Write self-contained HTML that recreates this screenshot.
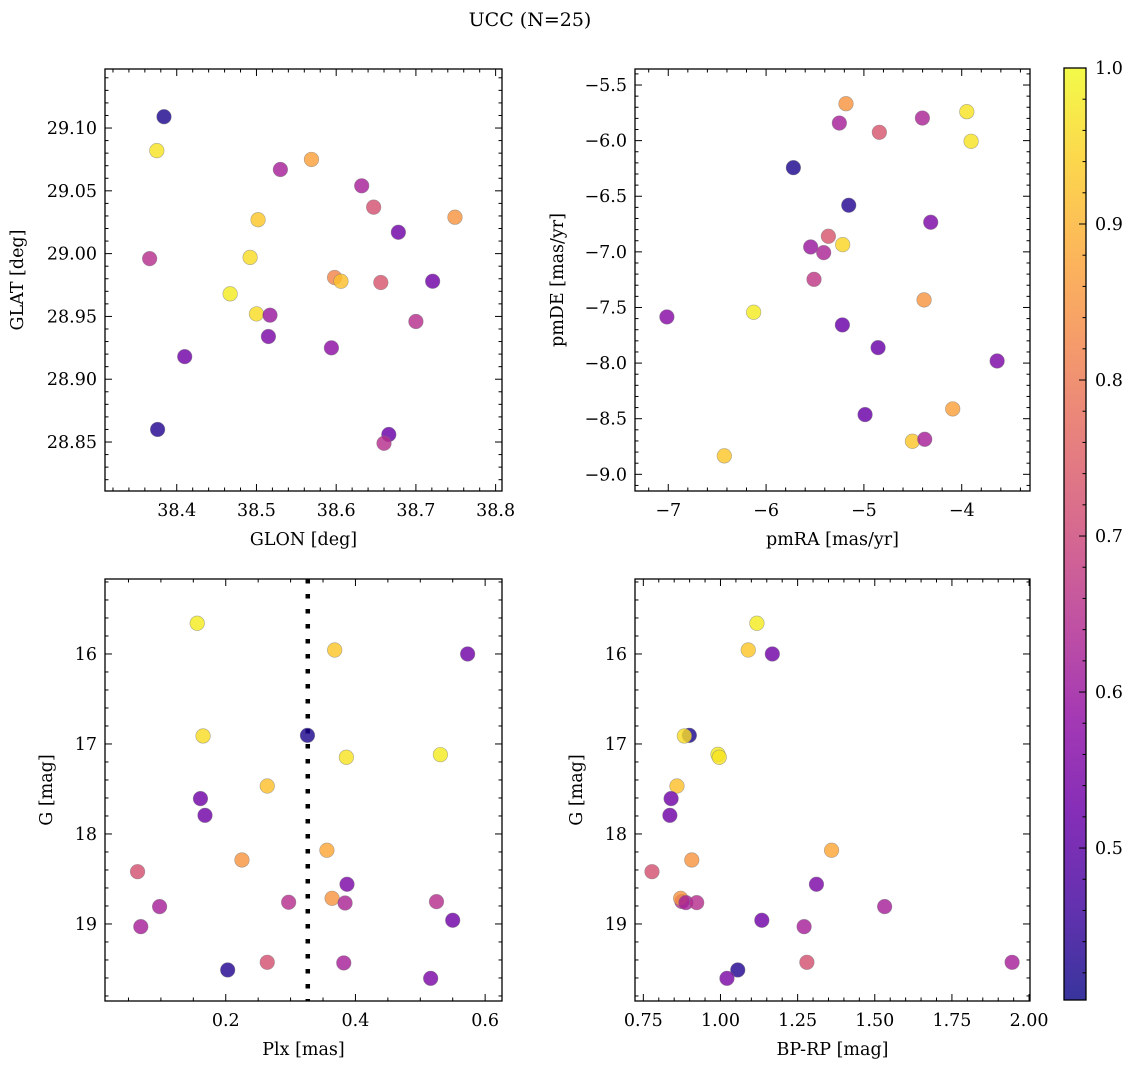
<!DOCTYPE html>
<html><head><meta charset="utf-8">
<style>
html,body{margin:0;padding:0;background:#fff;}
svg text{font-family:"DejaVu Serif","Liberation Serif",serif;fill:#000;}
</style></head>
<body>
<svg id="fig" width="1136" height="1068" viewBox="0 0 1136 1068" xmlns="http://www.w3.org/2000/svg">
<text x="530" y="26" font-size="19" text-anchor="middle">UCC (N=25)</text>
<defs>
<linearGradient id="cbgrad" x1="0" y1="1" x2="0" y2="0"></linearGradient>
</defs>
</svg>
<script>
// ---- data ----
const glon = [38.384,38.375,38.530,38.569,38.632,38.647,38.749,38.678,38.502,38.366,38.492,38.598,38.606,38.656,38.721,38.467,38.500,38.517,38.700,38.515,38.594,38.410,38.376,38.666,38.660];
const glat = [29.109,29.082,29.067,29.075,29.054,29.037,29.029,29.017,29.027,28.996,28.997,28.981,28.978,28.977,28.978,28.968,28.952,28.951,28.946,28.934,28.925,28.918,28.860,28.856,28.849];
const prob1 = [0.42,0.97,0.62,0.87,0.62,0.72,0.85,0.53,0.93,0.65,0.96,0.82,0.92,0.73,0.53,0.98,0.96,0.60,0.65,0.55,0.58,0.53,0.43,0.52,0.65];

const pmra = [-5.183,-5.251,-4.842,-4.402,-3.948,-3.904,-5.721,-5.155,-4.317,-5.363,-5.217,-5.544,-5.411,-5.510,-4.385,-7.014,-6.127,-5.220,-4.855,-3.638,-4.092,-4.988,-4.504,-4.378,-6.427];
const pmde = [-5.668,-5.842,-5.925,-5.797,-5.740,-6.006,-6.243,-6.581,-6.734,-6.860,-6.935,-6.956,-7.007,-7.247,-7.432,-7.585,-7.543,-7.657,-7.861,-7.981,-8.412,-8.463,-8.703,-8.685,-8.834];
const prob2 = [0.85,0.62,0.73,0.63,0.97,0.97,0.42,0.43,0.55,0.73,0.95,0.60,0.63,0.67,0.85,0.57,0.98,0.52,0.52,0.55,0.87,0.52,0.93,0.62,0.93];

const plx = [0.156,0.368,0.573,0.165,0.326,0.386,0.531,0.264,0.161,0.168,0.225,0.356,0.064,0.387,0.098,0.297,0.364,0.384,0.525,0.550,0.069,0.203,0.264,0.382,0.516];
const gmag3 = [15.659,15.956,16.0,16.911,16.904,17.148,17.119,17.467,17.607,17.793,18.289,18.181,18.419,18.559,18.807,18.759,18.715,18.767,18.752,18.959,19.030,19.511,19.426,19.433,19.604];
const prob3 = [0.98,0.93,0.53,0.96,0.42,0.97,0.98,0.92,0.53,0.53,0.85,0.88,0.72,0.55,0.62,0.65,0.85,0.63,0.65,0.53,0.62,0.43,0.72,0.62,0.55];
const plxRef = 0.3265;

const bprp = [1.118,1.090,1.168,0.899,0.883,0.992,0.996,0.859,0.840,0.836,0.907,1.360,0.778,1.311,0.875,0.871,0.888,0.923,1.532,1.134,1.271,1.280,1.945,1.056,1.021];
const gmag4 = [15.659,15.956,16.0,16.904,16.911,17.115,17.148,17.467,17.607,17.793,18.289,18.181,18.419,18.559,18.750,18.715,18.763,18.763,18.807,18.959,19.030,19.426,19.426,19.511,19.604];
const prob4 = [0.98,0.93,0.53,0.42,0.96,0.98,0.97,0.92,0.53,0.53,0.85,0.88,0.72,0.55,0.65,0.85,0.62,0.65,0.62,0.53,0.62,0.72,0.62,0.43,0.55];

const cbTicks = [0.5,0.6,0.7,0.8,0.9,1.0];

// ---- colormap (plasma) ----
const plasmaStops = ["#0d0887","#41049d","#6a00a8","#8f0da4","#b12a90","#cc4778","#e16462","#f2844b","#fca636","#fcce25","#f0f921"];
function hex2rgb(h){return [parseInt(h.slice(1,3),16),parseInt(h.slice(3,5),16),parseInt(h.slice(5,7),16)];}
function plasma(t){
  t=Math.max(0,Math.min(1,t));
  const f=t*10, i=Math.min(9,Math.floor(f)), r=f-i;
  const a=hex2rgb(plasmaStops[i]), b=hex2rgb(plasmaStops[i+1]);
  return "rgb("+a.map((v,k)=>Math.round(v+(b[k]-v)*r)).join(",")+")";
}
const vmin=0.4026, vmax=1.0;
function cmap(v){return plasma((v-vmin)/(vmax-vmin));}

const NS="http://www.w3.org/2000/svg";
const svg=document.getElementById("fig");
function mk(tag,attrs,parent){const e=document.createElementNS(NS,tag);for(const k in attrs)e.setAttribute(k,attrs[k]);(parent||svg).appendChild(e);return e;}

function fmt(v,d){let s=v.toFixed(d);if(s.startsWith("-"))s="\u2212"+s.slice(1);return s;}
const FS=17.5;

function panel(cfg){
  const g=mk("g",{});
  
  
  const L=cfg.l,R=cfg.r,T=cfg.t,B=cfg.b;
  const sx=v=>L+(v-cfg.x0)/(cfg.x1-cfg.x0)*(R-L);
  const sy=cfg.invert? (v=>T+(v-cfg.y0)/(cfg.y1-cfg.y0)*(B-T)) : (v=>B-(v-cfg.y0)/(cfg.y1-cfg.y0)*(B-T));
  if(cfg.vline!==undefined){
    const ln=mk("line",{x1:sx(cfg.vline),x2:sx(cfg.vline),y1:T,y2:B,stroke:"#000","stroke-width":4.5,"stroke-dasharray":"4.5 10.5"},g);
    
    
  }
  for(let i=0;i<cfg.xs.length;i++){
    const c=mk("circle",{cx:sx(cfg.xs[i]),cy:sy(cfg.ys[i]),r:7.3,fill:cmap(cfg.cs[i]),"fill-opacity":0.82,stroke:"#777","stroke-opacity":0.6,"stroke-width":0.6},g);
    
    
  }
  const fr=mk("rect",{x:L,y:T,width:R-L,height:B-T,fill:"none",stroke:"#000","stroke-width":1.3},g);
  
  
  const eps=1e-9;
  const xmin=Math.min(cfg.x0,cfg.x1), xmax=Math.max(cfg.x0,cfg.x1);
  for(let v=Math.ceil(xmin/cfg.xminor-eps)*cfg.xminor; v<=xmax+eps; v+=cfg.xminor){
    const vv=Math.round(v/cfg.xminor)*cfg.xminor;
    const isMaj=Math.abs(vv/cfg.xmajor-Math.round(vv/cfg.xmajor))<1e-6;
    const len=isMaj?7:3.5, x=sx(vv);
    mk("line",{x1:x,x2:x,y1:B,y2:B-len,stroke:"#000","stroke-width":1},g);
    mk("line",{x1:x,x2:x,y1:T,y2:T+len,stroke:"#000","stroke-width":1},g);
    if(isMaj){
      const t=mk("text",{x:x,y:B+25,"font-size":FS,"text-anchor":"middle"},g);
      t.textContent=fmt(vv,cfg.xdec);
      
      
    }
  }
  const ymin=Math.min(cfg.y0,cfg.y1), ymax=Math.max(cfg.y0,cfg.y1);
  for(let v=Math.ceil(ymin/cfg.yminor-eps)*cfg.yminor; v<=ymax+eps; v+=cfg.yminor){
    const vv=Math.round(v/cfg.yminor)*cfg.yminor;
    const isMaj=Math.abs(vv/cfg.ymajor-Math.round(vv/cfg.ymajor))<1e-6;
    const len=isMaj?7:3.5, y=sy(vv);
    mk("line",{x1:L,x2:L+len,y1:y,y2:y,stroke:"#000","stroke-width":1},g);
    mk("line",{x1:R,x2:R-len,y1:y,y2:y,stroke:"#000","stroke-width":1},g);
    if(isMaj){
      const t=mk("text",{x:L-8,y:y+6,"font-size":FS,"text-anchor":"end"},g);
      t.textContent=fmt(vv,cfg.ydec);
      
      
    }
  }
  const xl=mk("text",{x:(L+R)/2,y:B+54,"font-size":FS,"text-anchor":"middle"},g);
  xl.textContent=cfg.xlabel;
  
  
  const yl=mk("text",{x:0,y:0,"font-size":FS,"text-anchor":"middle",transform:"translate("+(cfg.ylx)+","+((T+B)/2)+") rotate(-90)"},g);
  yl.textContent=cfg.ylabel;
  
  
}

panel({name:"glon-glat-panel",l:105,r:502,t:69,b:491,x0:38.310,x1:38.808,y0:28.811,y1:29.147,
  xs:glon,ys:glat,cs:prob1,xmajor:0.1,xminor:0.02,ymajor:0.05,yminor:0.01,xdec:1,ydec:2,
  xlabel:"GLON [deg]",ylabel:"GLAT [deg]",ylx:23});
panel({name:"proper-motion-panel",l:635,r:1030,t:69,b:491,x0:-7.340,x1:-3.302,y0:-9.150,y1:-5.356,
  xs:pmra,ys:pmde,cs:prob2,xmajor:1,xminor:0.2,ymajor:0.5,yminor:0.1,xdec:0,ydec:1,
  xlabel:"pmRA [mas/yr]",ylabel:"pmDE [mas/yr]",ylx:563});
panel({name:"parallax-panel",l:105,r:502,t:579,b:1001,x0:0.0138,x1:0.626,y0:15.167,y1:19.856,invert:true,
  xs:plx,ys:gmag3,cs:prob3,xmajor:0.2,xminor:0.05,ymajor:1,yminor:0.2,xdec:1,ydec:0,vline:plxRef,
  xlabel:"Plx [mas]",ylabel:"G [mag]",ylx:52});
panel({name:"cmd-panel",l:635,r:1030,t:579,b:1001,x0:0.723,x1:2.003,y0:15.167,y1:19.856,invert:true,
  xs:bprp,ys:gmag4,cs:prob4,xmajor:0.25,xminor:0.05,ymajor:1,yminor:0.2,xdec:2,ydec:0,
  xlabel:"BP-RP [mag]",ylabel:"G [mag]",ylx:582});

// ---- colorbar ----
const grad=document.getElementById("cbgrad");
for(let i=0;i<=10;i++){
  const v=vmin+(vmax-vmin)*i/10;
  mk("stop",{offset:(i*10)+"%","stop-color":cmap(v)},grad);
}
const cbL=1064,cbR=1086,cbT=68,cbB=1000;
const cby=v=>cbB-(v-vmin)/(vmax-vmin)*(cbB-cbT);
const cb=mk("g",{});


mk("rect",{x:cbL,y:cbT,width:cbR-cbL,height:cbB-cbT,fill:"url(#cbgrad)","fill-opacity":0.82},cb);
mk("rect",{x:cbL,y:cbT,width:cbR-cbL,height:cbB-cbT,fill:"none",stroke:"#000","stroke-width":1.3},cb);
for(let v=0.42; v<=1.0001; v+=0.02){
  const vv=Math.round(v*100)/100, y=cby(vv);
  const maj=Math.abs(vv*10-Math.round(vv*10))<1e-6;
  mk("line",{x1:cbR,x2:cbR-(maj?7:3.5),y1:y,y2:y,stroke:"#000","stroke-width":1},cb);
}
cbTicks.forEach(v=>{
  const t=mk("text",{x:cbR+9,y:cby(v)+6,"font-size":FS},cb);
  t.textContent=v.toFixed(1);
  
  
});
</script>
</body></html>
